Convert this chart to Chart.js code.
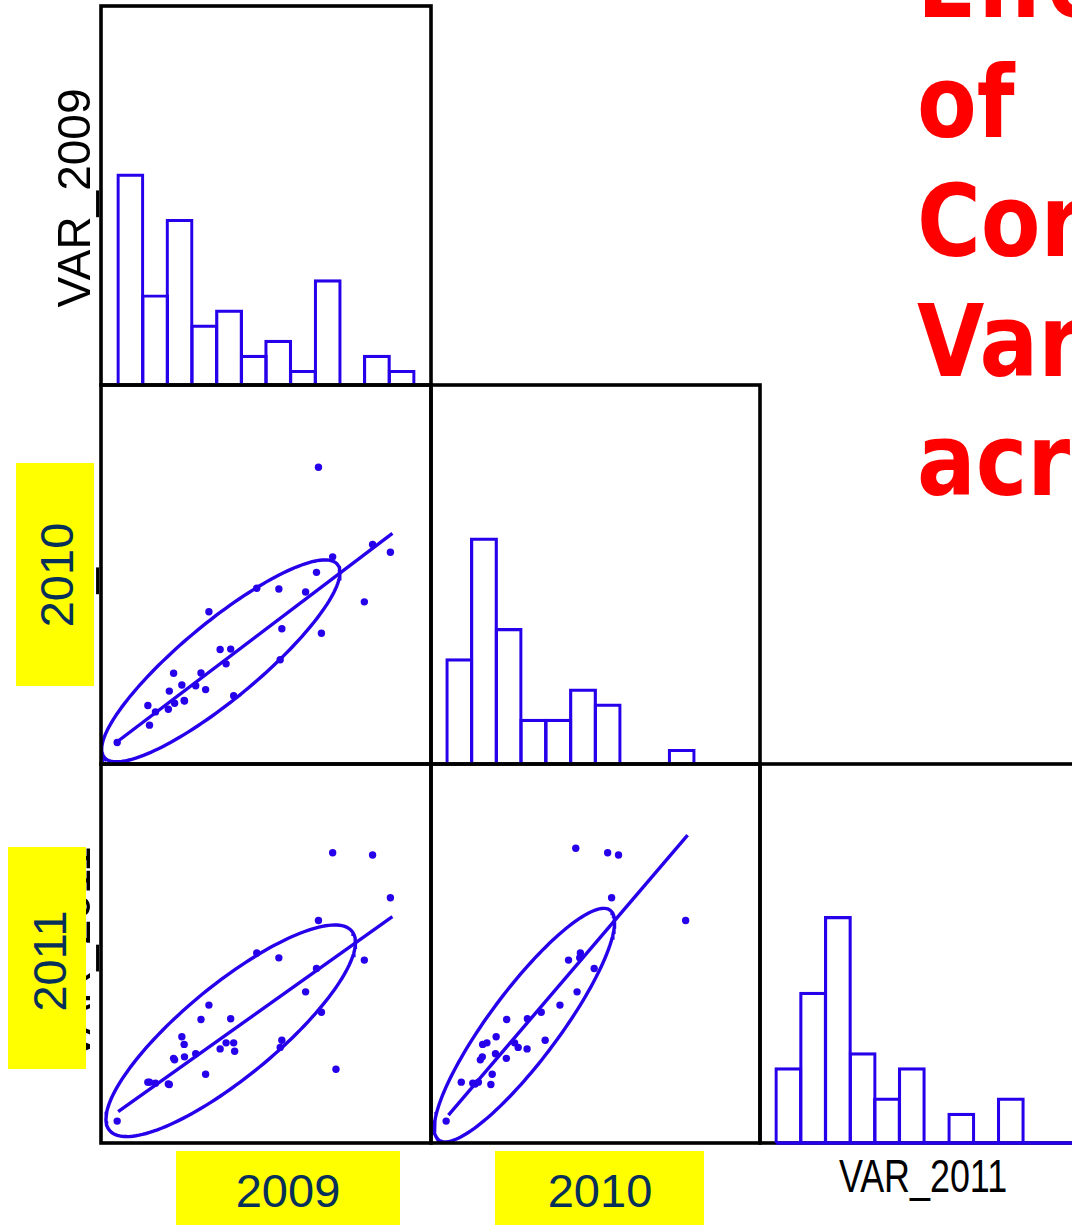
<!DOCTYPE html>
<html><head><meta charset="utf-8">
<script src="https://cdn.jsdelivr.net/npm/chart.js@4.4.0/dist/chart.umd.min.js"></script>
<style>
html,body{margin:0;padding:0;background:#fff;}
body{width:1072px;height:1225px;overflow:hidden;position:relative;}
canvas{position:absolute;}
.lbl{position:absolute;font-family:"Liberation Sans",Arial,sans-serif;white-space:nowrap;line-height:1;color:#000;}
.rot{transform:translate(-50%,-50%) rotate(-90deg);}
.hz{transform:translate(-50%,-50%);}
.box{position:absolute;background:#ffff00;}
.yl{color:#06305a;font-size:47px;}
.title{position:absolute;left:917px;top:-77px;font-family:"Comic Sans MS","DejaVu Sans",sans-serif;font-weight:bold;font-size:100px;line-height:119.5px;color:#ff0000;white-space:nowrap;transform:scaleX(0.87);transform-origin:0 0;}
</style></head>
<body>
<div class="title">Effect<br>of<br>Correlated<br>Variables<br>across</div>

<div class="lbl rot" style="left:74px;top:198px;font-size:46px;">VAR_2009</div>
<div class="lbl rot" style="left:74px;top:575px;font-size:46px;">VAR_2010</div>
<div class="lbl rot" style="left:74px;top:954px;font-size:46px;">VAR_2011</div>
<div class="lbl" style="left:923px;top:1176px;font-size:46px;transform:translate(-50%,-50%) scaleX(0.78);">VAR_2011</div>

<div class="box" style="left:16px;top:463px;width:78px;height:223px;"></div>
<div class="lbl rot yl" style="left:56px;top:575px;">2010</div>
<div class="box" style="left:8px;top:847px;width:78px;height:222px;"></div>
<div class="lbl rot yl" style="left:49px;top:961px;">2011</div>
<div class="box" style="left:176px;top:1151px;width:224px;height:74px;"></div>
<div class="lbl hz yl" style="left:288px;top:1190px;">2009</div>
<div class="box" style="left:495px;top:1151px;width:209px;height:74px;"></div>
<div class="lbl hz yl" style="left:600px;top:1190px;">2010</div>

<script>
// ---- data (one entry per unit; null = missing) ----
const VAR_2009 = [65.9, 82.3, 87.7, 70.2, 65.3, 47.2, 53.9, 62.0, 79.8, 32.7, 54.8, 66.8, 36.1, 39.3, 37.9, 54.3, 22.0, 30.3, 24.5, 28.7, 31.7, 20.7, 40.2, 14.2, 25.2, 25.3, 22.3, 16.5, 20.4, 14.7, 4.9, 71.2, null, 40.5];
const VAR_2010 = [77.4, 57.0, 54.9, 53.7, 49.6, 45.4, 45.2, 44.4, 41.8, 39.2, 34.7, 33.5, 29.2, 29.3, 25.4, 26.5, 22.9, 23.0, 19.8, 19.6, 18.6, 18.2, 17.0, 14.4, 15.7, 15.6, 15.0, 12.7, 13.4, 9.2, 4.6, null, 44.0, null];
const VAR_2011 = [58.9, 76.2, 64.9, 76.8, 46.2, 50.3, 49.0, 40.0, 48.4, 36.5, 27.2, 34.6, 24.9, 32.9, 26.5, 25.3, 22.4, 32.7, 28.1, 23.6, 18.2, 15.5, 26.5, 16.1, 26.1, 22.8, 22.0, 15.8, 15.6, 16.1, 5.8, 19.5, 78.0, 24.3];

// histogram bins (bin mid-points) and counts
const hist2009Mids = [8.9, 16.4, 23.8, 31.3, 38.8, 46.3, 53.7, 61.2, 68.7, 76.2, 83.6, 91.1];
const hist2009Counts = [14, 6, 11, 4, 5, 2, 3, 1, 7, 0, 2, 1];
const hist2010Mids = [8.6, 16.1, 23.6, 31.1, 38.7, 46.2, 53.7, 61.2, 68.7, 76.2];
const hist2010Counts = [7, 15, 9, 3, 3, 5, 4, 0, 0, 1];
const hist2011Mids = [8.6, 16.1, 23.6, 31.1, 38.5, 46.0, 53.5, 61.0, 68.5, 76.0];
const hist2011Counts = [5, 10, 15, 6, 3, 5, 0, 2, 0, 3];
const hist2011Base = [4.9, 100];

// least-squares fit lines (end points) and data ellipses (centre x, spread x, centre y, spread y, correlation)
const fit2010on2009 = [[4.9, 4.8], [88.3, 59.9]];
const fit2011on2009 = [[5.2, 8.3], [88.3, 59.9]];
const fit2011on2010 = [[5.3, 7.4], [78.0, 81.5]];
const ell2010v2009 = [36.3, 36.1, 26.2, 26.7, 0.875];
const ell2011v2009 = [39.3, 37.8, 29.7, 28.0, 0.835];
const ell2011v2010 = [28.4, 27.4, 31.2, 30.9, 0.88];

// ---- rendering ----
const BLUE = '#2600ea';
const PAD = 5;

function pairs(xs, ys) {
  const out = [];
  xs.forEach((x, i) => { if (x != null && ys[i] != null) out.push({x: x, y: ys[i]}); });
  return out;
}
function ellipsePts(e) {
  const [cx, rx, cy, ry, rho] = e;
  const a = Math.acos(rho), pts = [];
  for (let k = 0; k <= 160; k++) {
    const t = 2 * Math.PI * k / 160;
    pts.push({x: cx + rx * Math.cos(t), y: cy + ry * Math.cos(t - a)});
  }
  return pts;
}
function hist(mids, counts) { return mids.map((m, i) => ({x: m, y: counts[i]})); }

const framePlugin = {
  id: 'frame',
  beforeDatasetsDraw(chart, args, opts) { if (opts.before) draw(chart); },
  afterDatasetsDraw(chart, args, opts) { if (!opts.before) draw(chart); }
};
function draw(chart) {
  const {ctx, chartArea: a} = chart;
  ctx.save();
  ctx.strokeStyle = '#000';
  ctx.lineWidth = 3.6;
  ctx.strokeRect(a.left, a.top, a.right - a.left, a.bottom - a.top);
  ctx.restore();
}

function makeCanvas(x0, y0, x1, y1) {
  const c = document.createElement('canvas');
  c.width = (x1 - x0) + 2 * PAD;
  c.height = (y1 - y0) + 2 * PAD;
  c.style.left = (x0 - PAD) + 'px';
  c.style.top = (y0 - PAD) + 'px';
  document.body.insertBefore(c, document.body.firstChild);
  return c;
}
function axes(xmin, xmax, ymin, ymax) {
  return {
    x: {type: 'linear', min: xmin, max: xmax, display: false, offset: false, ticks: {stepSize: 50}},
    y: {type: 'linear', min: ymin, max: ymax, display: false, ticks: {stepSize: 50}}
  };
}
function baseOpts(scales, before) {
  return {
    responsive: false, animation: false, devicePixelRatio: 1,
    layout: {padding: PAD},
    scales: scales,
    plugins: {legend: {display: false}, tooltip: {enabled: false}, frame: {before: !!before}}
  };
}

function scatterPanel(box, xs, ys, fit, ell, ranges) {
  const c = makeCanvas(...box);
  new Chart(c, {
    type: 'scatter',
    data: {datasets: [
      {data: ellipsePts(ell), showLine: true, borderColor: BLUE, borderWidth: 3.4, pointRadius: 0, fill: false, tension: 0},
      {data: fit.map(p => ({x: p[0], y: p[1]})), showLine: true, borderColor: BLUE, borderWidth: 3.4, pointRadius: 0},
      {data: pairs(xs, ys), pointRadius: 3.7, pointBackgroundColor: BLUE, pointBorderWidth: 0, showLine: false}
    ]},
    options: baseOpts(axes(...ranges)),
    plugins: [framePlugin]
  });
}
function histPanel(box, mids, counts, ranges, extra, before) {
  const c = makeCanvas(...box);
  const ds = [{type: 'bar', data: hist(mids, counts), backgroundColor: 'rgba(0,0,0,0)', borderColor: BLUE,
               borderWidth: 3.2, borderSkipped: 'start', barThickness: 27.9, inflateAmount: 0}];
  if (extra) ds.push(extra);
  new Chart(c, {
    type: 'bar',
    data: {datasets: ds},
    options: baseOpts(axes(...ranges), before),
    plugins: [framePlugin]
  });
}

// panel boxes: [left, top, right, bottom]
histPanel([101, 6, 431, 385], hist2009Mids, hist2009Counts, [0, 100, 0, 25.1]);
scatterPanel([101, 385, 431, 764], VAR_2009, VAR_2010, fit2010on2009, ell2010v2009, [0, 100, -1.08, 99.15]);
histPanel([431, 385, 760, 764], hist2010Mids, hist2010Counts, [0, 100, 0, 25.1]);
scatterPanel([101, 764, 431, 1143], VAR_2009, VAR_2011, fit2011on2009, ell2011v2009, [0, 100, 0, 100.3]);
scatterPanel([431, 764, 760, 1143], VAR_2010, VAR_2011, fit2011on2010, ell2011v2010, [0, 100, 0, 100.3]);
histPanel([760, 764, 1090, 1143], hist2011Mids, hist2011Counts, [0, 100, 0, 25.05],
  {type: 'line', data: hist2011Base.map(v => ({x: v, y: 0})), borderColor: BLUE, borderWidth: 3.4, pointRadius: 0, clip: false}, true);
</script>
</body></html>
